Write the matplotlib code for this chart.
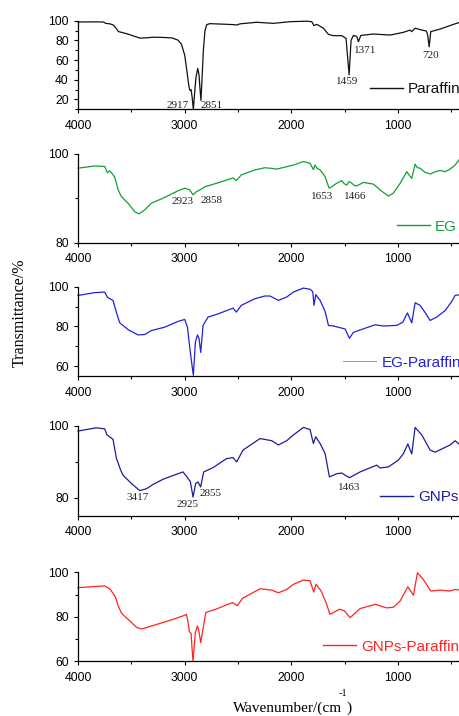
import matplotlib
matplotlib.use("Agg")
import matplotlib.pyplot as plt
from matplotlib.ticker import MultipleLocator

# ---- FTIR spectra (wavenumber in cm^-1, transmittance in %) ----
wn_paraffin = [4000, 3844, 3763, 3740, 3700, 3669, 3640, 3622, 3580, 3544, 3480, 3420, 3360,
               3300, 3200, 3120, 3063, 3030, 3000, 2981, 2960, 2950, 2940, 2930, 2919, 2908,
               2895, 2878, 2866, 2856, 2848, 2838, 2825, 2810, 2794, 2763, 2600, 2544, 2513,
               2481, 2325, 2169, 2013, 1856, 1809, 1788, 1762, 1700, 1653, 1606, 1528, 1488,
               1459, 1441, 1419, 1387, 1372, 1350, 1231, 1075, 950, 887, 872, 841, 778, 735,
               722, 709, 694, 606, 481, 419]
t_paraffin = [98.7, 98.8, 98.7, 97.3, 96.8, 95.6, 92.0, 89.0, 87.8, 86.8, 84.5, 82.3, 82.6,
              83.2, 83.0, 82.5, 80.3, 76.0, 65.0, 50.0, 33.0, 29.0, 30.0, 22.0, 10.0, 25.0,
              42.0, 51.5, 45.0, 30.0, 19.0, 40.0, 70.0, 90.0, 96.0, 97.0, 96.3, 96.0, 95.6,
              96.8, 98.4, 97.3, 99.0, 99.5, 99.0, 95.0, 96.3, 92.3, 86.1, 84.8, 84.8, 82.0,
              45.0, 80.0, 85.0, 84.0, 78.6, 85.0, 86.5, 85.4, 88.2, 90.5, 88.9, 92.4, 90.5,
              89.5, 85.0, 73.5, 88.9, 91.5, 96.3, 98.4]

wn_eg = [4000, 3844, 3750, 3725, 3703, 3681, 3656, 3625, 3594, 3531, 3469, 3428, 3375, 3313,
         3188, 3063, 3000, 2953, 2922, 2891, 2850, 2813, 2688, 2547, 2516, 2469, 2344, 2250,
         2200, 2137, 1981, 1888, 1825, 1794, 1778, 1760, 1731, 1684, 1647, 1622, 1600, 1575,
         1528, 1505, 1481, 1460, 1434, 1410, 1387, 1325, 1231, 1169, 1091, 1044, 981, 919,
         895, 872, 841, 820, 794, 750, 700, 650, 606, 560, 513, 466, 419]
t_eg = [96.8, 97.3, 97.2, 95.8, 96.2, 95.6, 94.8, 92.0, 90.4, 88.9, 87.0, 86.5, 87.4, 88.9,
        90.2, 91.7, 92.3, 91.9, 90.8, 91.5, 92.0, 92.6, 93.5, 94.6, 94.0, 95.3, 96.4, 96.9,
        96.8, 96.6, 97.5, 98.3, 97.9, 96.5, 97.5, 96.8, 96.4, 94.9, 92.3, 92.6, 93.0, 93.4,
        94.0, 93.3, 93.0, 93.8, 93.4, 92.9, 92.8, 93.6, 93.2, 91.9, 90.5, 91.2, 93.4, 96.0,
        95.2, 94.5, 97.7, 96.9, 96.8, 95.9, 95.5, 96.0, 96.3, 96.0, 96.6, 97.5, 99.0]

wn_eg_paraffin = [4000, 3844, 3750, 3725, 3703, 3672, 3641, 3609, 3531, 3438, 3375, 3313, 3188,
                  3063, 3000, 2974, 2953, 2931, 2919, 2900, 2881, 2866, 2850, 2828, 2781, 2688,
                  2547, 2516, 2469, 2344, 2250, 2200, 2122, 2044, 1981, 1888, 1825, 1800, 1788,
                  1772, 1731, 1684, 1653, 1606, 1497, 1456, 1419, 1356, 1216, 1138, 1013, 956,
                  913, 872, 841, 794, 738, 700, 638, 559, 497, 466, 419]
t_eg_paraffin = [95.6, 97.0, 97.3, 94.8, 94.0, 93.1, 87.2, 81.8, 78.4, 75.7, 75.9, 77.9, 79.6,
                 82.5, 83.5, 79.6, 69.5, 60.2, 55.4, 72.0, 75.7, 74.0, 66.9, 80.5, 84.7, 86.3,
                 89.2, 87.2, 90.6, 93.9, 95.3, 95.3, 93.1, 94.8, 97.3, 99.3, 98.7, 97.5, 90.6,
                 96.0, 93.1, 87.5, 80.5, 80.2, 78.7, 74.0, 77.0, 78.2, 80.8, 80.2, 80.5, 82.1,
                 86.8, 81.8, 91.9, 90.6, 86.3, 83.0, 84.7, 88.0, 92.6, 95.6, 96.0]

wn_gnps = [4000, 3828, 3750, 3728, 3672, 3640, 3600, 3578, 3500, 3422, 3359, 3297, 3200, 3100,
           3016, 2984, 2947, 2922, 2897, 2875, 2851, 2822, 2734, 2609, 2547, 2513, 2453, 2294,
           2184, 2122, 2044, 1981, 1888, 1825, 1794, 1772, 1731, 1684, 1644, 1575, 1528, 1497,
           1456, 1356, 1200, 1169, 1091, 997, 950, 909, 872, 841, 778, 700, 653, 591, 513,
           466, 419]
t_gnps = [98.6, 99.5, 99.2, 97.5, 96.3, 91.0, 87.7, 86.3, 84.0, 82.0, 82.5, 83.7, 85.2, 86.3,
          87.2, 86.0, 84.5, 80.2, 84.0, 84.4, 83.0, 87.2, 88.4, 90.9, 91.2, 90.0, 93.3, 96.5,
          95.9, 94.7, 95.9, 97.5, 99.6, 99.0, 95.1, 97.0, 95.1, 92.3, 85.8, 86.7, 86.9, 86.3,
          85.6, 87.2, 89.1, 88.3, 88.6, 90.5, 92.3, 95.0, 92.2, 99.6, 97.5, 93.3, 92.7, 93.6,
          94.7, 95.9, 94.7]

wn_gnps_paraffin = [4000, 3750, 3700, 3650, 3620, 3590, 3500, 3450, 3400, 3350, 3200, 3100,
                    3000, 2984, 2970, 2956, 2940, 2930, 2922, 2912, 2900, 2880, 2865, 2850,
                    2803, 2709, 2553, 2506, 2459, 2294, 2184, 2122, 2044, 1981, 1888, 1825,
                    1791, 1769, 1722, 1675, 1638, 1550, 1503, 1450, 1356, 1216, 1106, 1044,
                    981, 909, 856, 819, 763, 694, 606, 513, 466, 419]
t_gnps_paraffin = [93.1, 93.9, 92.5, 89.0, 84.5, 81.5, 77.5, 75.2, 74.5, 75.3, 77.5, 79.0,
                   80.7, 81.1, 78.0, 73.3, 72.5, 65.0, 60.0, 66.0, 73.0, 75.9, 73.0, 68.4,
                   81.9, 83.4, 86.4, 85.0, 88.3, 92.6, 92.0, 90.8, 92.3, 94.6, 96.5, 96.2,
                   91.1, 94.6, 91.6, 86.3, 81.1, 83.4, 82.7, 79.6, 83.7, 85.6, 84.0, 84.3,
                   87.1, 93.5, 89.7, 99.8, 96.7, 91.6, 92.0, 91.6, 92.3, 92.0]

series_names = ["Paraffin", "EG", "EG-Paraffin", "GNPs", "GNPs-Paraffin"]
series_wn = [wn_paraffin, wn_eg, wn_eg_paraffin, wn_gnps, wn_gnps_paraffin]
series_t = [t_paraffin, t_eg, t_eg_paraffin, t_gnps, t_gnps_paraffin]

# peak labels: (text, x, y) per panel
peaks_paraffin = [("2917", 3062, 14.2), ("2851", 2744, 14.2), ("1459", 1478, 38.6),
                  ("1371", 1309, 70.2), ("720", 700, 65.0)]
peaks_eg = [("2923", 3016, 89.4), ("2858", 2744, 89.5), ("1653", 1713, 90.5),
            ("1466", 1403, 90.5)]
peaks_gnps = [("3417", 3438, 80.1), ("2925", 2969, 78.1), ("2855", 2753, 81.3),
              ("1463", 1459, 82.9)]
series_peaks = [peaks_paraffin, peaks_eg, [], peaks_gnps, []]

# ---- styling ----
W, H = 460, 716
line_colors = ["#111111", "#10a030", "#2020dc", "#1c1c9c", "#ff2424"]
handle_colors = ["#111111", "#10a030", "#8c8cf0", "#1c1c9c", "#ff2424"]
ylims = [(10, 100), (80, 100), (55, 100), (75, 100), (60, 100)]
ymajor = [20, 20, 20, 20, 20]
yminor = [10, 10, 10, 10, 10]
# panel extents in pixels (top, bottom)
panel_px = [(20.7, 109.3), (154.0, 242.7), (286.7, 376.0), (426.0, 515.7), (572.3, 661.3)]
legend_anchor = [(0.764, 0.226), (0.835, 0.18), (0.694, 0.149), (0.79, 0.205), (0.641, 0.164)]

sans = "Liberation Sans"
serif = "Liberation Serif"

fig = plt.figure(figsize=(W / 100, H / 100), dpi=100)
left_px = 78.0

for i in range(5):
    top, bot = panel_px[i]
    ax = fig.add_axes([left_px / W, 1 - bot / H, (W - left_px) / W, (bot - top) / H])
    ax.plot(series_wn[i], series_t[i], color=line_colors[i], lw=0.9,
            clip_on=False, label=series_names[i], solid_joinstyle="round")
    ax.set_xlim(4000, 420)
    ax.set_ylim(*ylims[i])
    ax.xaxis.set_major_locator(MultipleLocator(1000))
    ax.xaxis.set_minor_locator(MultipleLocator(500))
    ax.yaxis.set_major_locator(MultipleLocator(ymajor[i]))
    ax.yaxis.set_minor_locator(MultipleLocator(yminor[i]))
    for s in ("top", "right"):
        ax.spines[s].set_visible(False)
    for s in ("left", "bottom"):
        ax.spines[s].set_linewidth(0.9)
    ax.tick_params(which="major", direction="out", length=3.2, width=0.8,
                   labelsize=8.7, pad=3.5)
    ax.tick_params(which="minor", direction="out", length=2.2, width=0.8)
    ax.tick_params(axis="x", which="major", pad=4.5)
    for lab in ax.get_xticklabels() + ax.get_yticklabels():
        lab.set_fontfamily(sans)
    ax.patch.set_alpha(0)

    handle = plt.Line2D([], [], color=handle_colors[i], lw=1.0 if i != 2 else 0.7)
    leg = ax.legend([handle], [series_names[i]], loc="center left",
                    bbox_to_anchor=legend_anchor[i], frameon=False,
                    borderpad=0, borderaxespad=0, handlelength=2.15,
                    handletextpad=0.35, prop={"family": sans, "size": 11})
    for txt in leg.get_texts():
        txt.set_color(line_colors[i])

    for label, x, y in series_peaks[i]:
        ax.text(x, y, label, ha="center", va="center", fontsize=8,
                family=serif, color="#222222", clip_on=False)

# axis titles
fig.text(20 / W, 1 - 313 / H, "Transmittance/%", rotation=90, ha="center",
         va="center", family=serif, fontsize=11.5)
fig.text(342 / W, 1 - 708 / H, "Wavenumber/(cm", ha="right", va="center",
         family=serif, fontsize=11)
fig.text(342.5 / W, 1 - 694 / H, "-1", ha="center", va="center",
         family=serif, fontsize=7.5)
fig.text(346 / W, 1 - 708 / H, ")", ha="left", va="center",
         family=serif, fontsize=11)

fig.savefig("out.png", dpi=100)
